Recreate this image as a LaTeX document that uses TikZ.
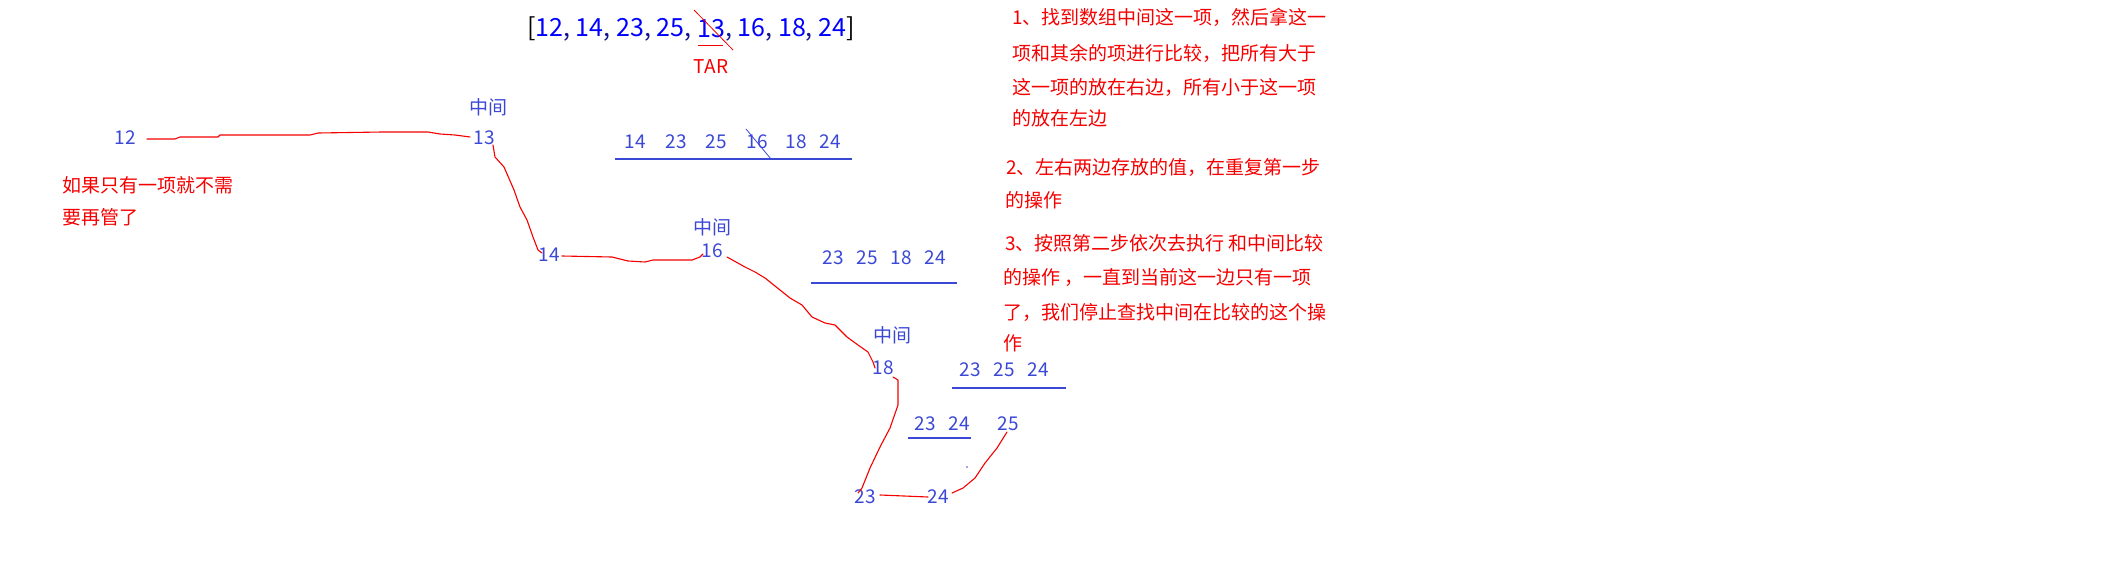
\documentclass[tikz,border=0pt]{standalone}
\usepackage{fontspec}
\setmainfont{Noto Sans CJK SC}
\usetikzlibrary{calc}
\definecolor{nblue}{RGB}{59,72,214}
\definecolor{hblue}{RGB}{0,0,255}
\definecolor{hnavy}{RGB}{20,20,140}
\definecolor{tred}{RGB}{245,0,0}
\tikzset{
  num/.style={inner sep=0pt, text=nblue, font=\fontsize{19}{19}\selectfont},
  note/.style={inner sep=0pt, anchor=west, text=tred, font=\fontsize{19}{19}\selectfont},
  hdr/.style={inner sep=0pt, anchor=west, font=\fontsize{25}{25}\selectfont},
  redline/.style={draw=tred, line width=1.1pt, line join=round, line cap=round},
  blueline/.style={draw=nblue, line width=1.1pt},
}
\begin{document}
\begin{tikzpicture}[x=1pt,y=-1pt]
\useasboundingbox (0,0) rectangle (2104,560);

% header
\node[hdr] (hl) at (527,29) {\textcolor{black}{[}\textcolor{hblue}{12}\textcolor{hnavy}{,} \textcolor{hblue}{14}\textcolor{hnavy}{,} \textcolor{hblue}{23}\textcolor{hnavy}{,} \textcolor{hblue}{25}\textcolor{hnavy}{,}\kern5.5pt};
\node[hdr] (h13) at (hl.east) {\textcolor{hblue}{13}};
\node[hdr] (hr) at (h13.east) {\textcolor{hnavy}{,} \textcolor{hblue}{16}\textcolor{hnavy}{,} \textcolor{hblue}{18}\textcolor{hnavy}{,} \textcolor{hblue}{24}\textcolor{black}{]}};
\draw[draw=tred, line width=0.8pt] ($(h13)+(-17,-19)$) -- ($(h13)+(22,21)$);
\draw[draw=tred, line width=1pt] ($(h13)+(-13,16)$) -- ($(h13)+(12,16)$);
\node[inner sep=0pt, text=tred, font=\fontsize{19}{19}\selectfont] (tar) at ($(h13)+(0,38)$) {TAR};

% main chain numbers
\node[num] (n12) at (125,138) {12};
\node[num] (m1) at (488,107) {中间};
\node[num] (n13) at (484,138) {13};
\node[num] (n14) at (549,255) {14};
\node[num] (m2) at (712,227) {中间};
\node[num] (n16) at (712,251) {16};
\node[num] (m3) at (892,335) {中间};
\node[num] (n18) at (883,368) {18};
\node[num] (n23) at (865,497) {23};
\node[num] (n24) at (938,497) {24};
\node[num] (n25) at (1008,424) {25};

% row 1
\node[num] (r1a) at (635,142) {14};
\node[num] (r1b) at (676,142) {23};
\node[num] (r1c) at (716,142) {25};
\node[num] (r1d) at (757,142) {16};
\node[num] (r1e) at (796,142) {18};
\node[num] (r1f) at (830,142) {24};
\coordinate (u1l) at (615,159); \coordinate (u1r) at (852,159);
\draw[blueline] (u1l) -- (u1r);
\draw[draw=nblue, line width=0.8pt] ($(r1d)+(-11,-13)$) -- ($(r1d)+(14,17)$);

% row 2
\node[num] (r2a) at (833,258) {23};
\node[num] (r2b) at (867,258) {25};
\node[num] (r2c) at (901,258) {18};
\node[num] (r2d) at (935,258) {24};
\coordinate (u2l) at (811,283); \coordinate (u2r) at (957,283);
\draw[blueline] (u2l) -- (u2r);

% row 3
\node[num] (r3a) at (970,370) {23};
\node[num] (r3b) at (1004,370) {25};
\node[num] (r3c) at (1038,370) {24};
\coordinate (u3l) at (952,388); \coordinate (u3r) at (1066,388);
\draw[blueline] (u3l) -- (u3r);

% row 4
\node[num] (r4a) at (925,424) {23};
\node[num] (r4b) at (959,424) {24};
\coordinate (u4l) at (908,438); \coordinate (u4r) at (971,438);
\draw[blueline] (u4l) -- (u4r);

\fill[nblue] (967,467) circle (0.8);

% left note
\node[note] (ln1) at (62,185) {如果只有一项就不需};
\node[note] (ln2) at (62,217) {要再管了};

% right notes
\node[note] (p1a) at (1012,17) {1、找到数组中间这一项，然后拿这一};
\node[note] (p1b) at (1012,53) {项和其余的项进行比较，把所有大于};
\node[note] (p1c) at (1012,87) {这一项的放在右边，所有小于这一项};
\node[note] (p1d) at (1012,118) {的放在左边};
\node[note] (p2a) at (1006,167) {2、左右两边存放的值，在重复第一步};
\node[note] (p2b) at (1005,200) {的操作};
\node[note] (p3a) at (1005,243) {3、按照第二步依次去执行 和中间比较};
\node[note] (p3b) at (1003,277) {的操作 ，一直到当前这一边只有一项};
\node[note] (p3c) at (1003,312) {了，我们停止查找中间在比较的这个操};
\node[note] (p3d) at (1003,343) {作};

% hand-drawn connectors
\draw[redline] ($(n12)+(22,1)$) -- (175,139) -- (180,137) -- (218,137) -- (220,135) -- (310,135) -- (318,133) -- (382,132) -- (428,132) -- (440,134) -- (455,135) -- ($(n13)+(-14,-1)$);
\draw[redline] ($(n13)+(9,7)$) -- (495,157) -- (504,167) -- (514,190) -- (520,207) -- (527,220) -- (533,237) -- (538,250) -- ($(n14)+(-7,-2)$);
\draw[redline] ($(n14)+(13,1)$) -- (612,257) -- (620,259) -- (628,261) -- (645,262) -- (653,260) -- (692,260) -- (700,257) -- ($(n16)+(-9,3)$);
\draw[redline] ($(n16)+(15,6)$) -- (745,267) -- (755,272) -- (765,278) -- (780,290) -- (790,298) -- (802,305) -- (812,317) -- (825,323) -- (835,325) -- (847,337) -- (858,345) -- (868,352) -- (873,362) -- ($(n18)+(-8,0)$);
\draw[redline] ($(n18)+(10,9)$) -- (898,380) -- (898,405) -- (890,428) -- (880,447) -- (870,468) -- (862,488) -- ($(n23)+(-7,-4)$);
\draw[redline] ($(n23)+(15,-2)$) -- ($(n24)+(-10,0)$);
\draw[redline] ($(n24)+(14,-4)$) -- (963,488) -- (975,478) -- (985,463) -- (997,448) -- ($(n25)+(-1,8)$);
\end{tikzpicture}
\end{document}
